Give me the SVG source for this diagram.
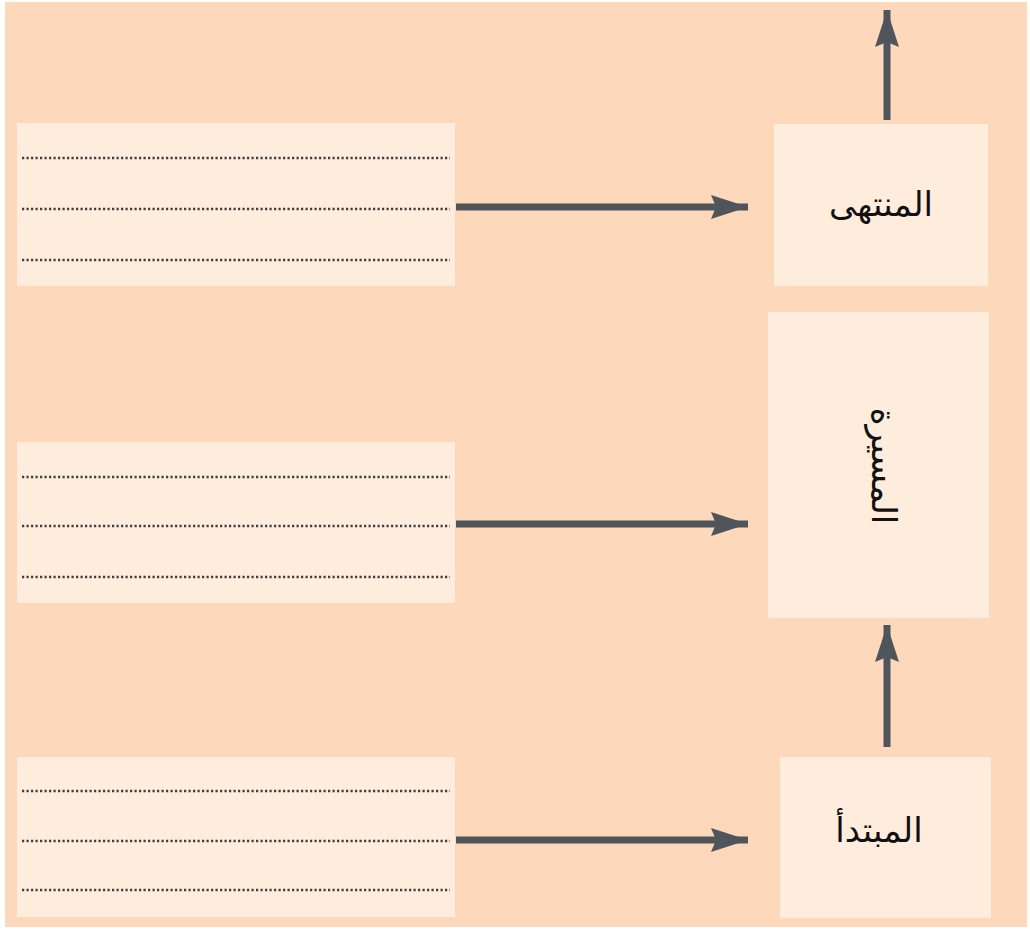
<svg xmlns="http://www.w3.org/2000/svg" width="1030" height="932" viewBox="0 0 1030 932">
  <style>
    .box { fill: #feeddd; }
    .dots { stroke: #3f3f3f; stroke-width: 2.3; stroke-dasharray: 2.2 2.3; fill: none; }
    .conn { stroke: #50555b; stroke-width: 7; fill: none; }
    .lbl { font-family: "DejaVu Sans", sans-serif; font-size: 34px; fill: #111; text-anchor: middle; }
  </style>
  <defs>
    <marker id="ah" markerUnits="userSpaceOnUse" markerWidth="42" markerHeight="28" refX="37" refY="12" orient="auto">
      <polygon points="0,0 37,12 0,24 5,12" fill="#50555b"/>
    </marker>
  </defs>
  <rect x="0" y="0" width="1030" height="932" fill="#ffffff"/>
  <rect x="5" y="2" width="1022" height="925" fill="#fdd8bb"/>

  <g id="notes-top">
    <rect class="box" x="17" y="123" width="438" height="163"/>
    <line class="dots" x1="22" y1="158" x2="450" y2="158"/>
    <line class="dots" x1="22" y1="209" x2="450" y2="209"/>
    <line class="dots" x1="22" y1="260" x2="450" y2="260"/>
  </g>
  <g id="notes-middle">
    <rect class="box" x="17" y="442" width="438" height="161"/>
    <line class="dots" x1="22" y1="477" x2="450" y2="477"/>
    <line class="dots" x1="22" y1="526" x2="450" y2="526"/>
    <line class="dots" x1="22" y1="577" x2="450" y2="577"/>
  </g>
  <g id="notes-bottom">
    <rect class="box" x="17" y="757" width="438" height="160"/>
    <line class="dots" x1="22" y1="791" x2="450" y2="791"/>
    <line class="dots" x1="22" y1="841" x2="450" y2="841"/>
    <line class="dots" x1="22" y1="890" x2="450" y2="890"/>
  </g>

  <g id="end">
    <rect class="box" x="774" y="124" width="214" height="162"/>
    <text class="lbl" x="881" y="216">المنتهى</text>
  </g>
  <g id="journey">
    <rect class="box" x="768" y="312" width="221" height="306"/>
    <text class="lbl" x="0" y="0" transform="translate(872 466) rotate(90)">المسيرة</text>
  </g>
  <g id="start">
    <rect class="box" x="780" y="757" width="211" height="161"/>
    <text class="lbl" x="879" y="842">المبتدأ</text>
  </g>

  <g id="connectors">
    <line class="conn" x1="456" y1="207" x2="748" y2="207" marker-end="url(#ah)"/>
    <line class="conn" x1="456" y1="524" x2="748" y2="524" marker-end="url(#ah)"/>
    <line class="conn" x1="456" y1="840" x2="748" y2="840" marker-end="url(#ah)"/>
    <line class="conn" x1="887" y1="120" x2="887" y2="10" marker-end="url(#ah)"/>
    <line class="conn" x1="887" y1="747" x2="887" y2="625" marker-end="url(#ah)"/>
  </g>
</svg>
